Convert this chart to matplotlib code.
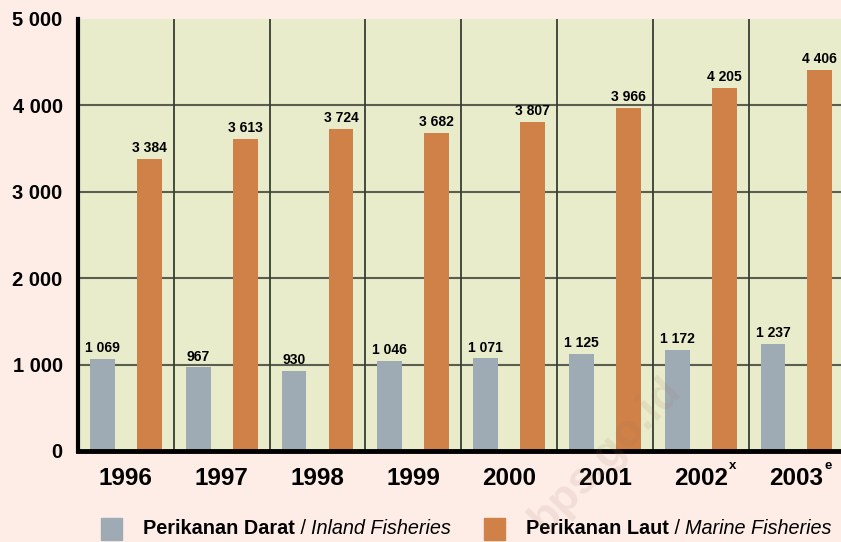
import numpy as np
import matplotlib.pyplot as plt

plt.rcParams['font.family'] = ['Liberation Sans', 'DejaVu Sans']

years = ['1996', '1997', '1998', '1999', '2000', '2001', '2002', '2003']
year_marks = ['', '', '', '', '', '', 'x', 'e']
inland = [1069, 967, 930, 1046, 1071, 1125, 1172, 1237]
marine = [3384, 3613, 3724, 3682, 3807, 3966, 4205, 4406]
y_ticks = [0, 1000, 2000, 3000, 4000, 5000]

page_bg = '#fdede6'
plot_bg = '#e8ecca'
grey = '#9eabb4'
orange = '#cf8147'


def fmt(v):
    # thousands separated by a space
    return '{:,}'.format(v).replace(',', ' ')


fig = plt.figure(figsize=(8.41, 5.42), dpi=100)
fig.patch.set_facecolor(page_bg)
ax = fig.add_axes([78 / 841, 91 / 542, 1 - 78 / 841 + 0.004, 432 / 542])
ax.set_facecolor(plot_bg)

x = np.arange(len(years))
w = 0.26
b1 = ax.bar(x - 0.245, inland, w, color=grey, zorder=3)
b2 = ax.bar(x + 0.245, marine, w, color=orange, zorder=3)

for bars, vals in ((b1, inland), (b2, marine)):
    for r, v in zip(bars, vals):
        ax.text(r.get_x() + r.get_width() / 2, v + 45, fmt(v), ha='center',
                va='bottom', fontsize=10, fontweight='bold', zorder=4)

ax.set_xlim(-0.5, 7.5)
ax.set_ylim(0, 5000)
ax.set_yticks(y_ticks)
ax.set_yticklabels([fmt(v) for v in y_ticks], fontsize=14.5, fontweight='bold')
ax.tick_params(axis='y', length=0, pad=11)
ax.set_xticks([])

# grid: horizontal at every thousand, vertical between years
for yv in y_ticks[1:-1]:
    ax.axhline(yv, color='#5a5e50', lw=1.5, zorder=1)
for xv in x[1:] - 0.5:
    ax.axvline(xv, color='#3a3d33', lw=1.3, zorder=1)

for s in ['top', 'right']:
    ax.spines[s].set_visible(False)
ax.spines['left'].set_linewidth(3)
ax.spines['bottom'].set_linewidth(3.5)
ax.spines['left'].set_zorder(5)
ax.spines['bottom'].set_zorder(5)

# year labels with superscript marks
for i, (yr, mk) in enumerate(zip(years, year_marks)):
    t = ax.text(i, -320, yr, ha='center', va='center', fontsize=17.5,
                fontweight='bold', clip_on=False)
    if mk:
        ax.annotate(mk, xy=(1, 1), xycoords=t, xytext=(1, 1),
                    textcoords='offset points', ha='left', va='center',
                    fontsize=9.5, fontweight='bold', annotation_clip=False)

# legend
items = [(grey, 'Perikanan Darat', 'Inland Fisheries', 101),
         (orange, 'Perikanan Laut', 'Marine Fisheries', 484)]
for col, bold, ital, px in items:
    fig.patches.append(plt.Rectangle((px / 841, 2 / 542), 21 / 841, 22 / 542,
                                     transform=fig.transFigure, color=col))
    t1 = fig.text((px + 42) / 841, 13 / 542, bold, fontsize=14.3,
                  fontweight='bold', va='center')
    t2 = ax.annotate(' / ', xy=(1, 0.5), xycoords=t1, va='center',
                     fontsize=14.3, annotation_clip=False)
    ax.annotate(ital, xy=(1, 0.5), xycoords=t2, va='center',
                fontsize=14.3, style='italic', annotation_clip=False)

# faint watermark
fig.text(605 / 841, (542 - 455) / 542, 'bps.go.id', rotation=46,
         ha='center', va='center', fontsize=32, fontweight='bold',
         color='#a07060', alpha=0.12, zorder=10)

fig.savefig('out.png', dpi=100, facecolor=page_bg)
